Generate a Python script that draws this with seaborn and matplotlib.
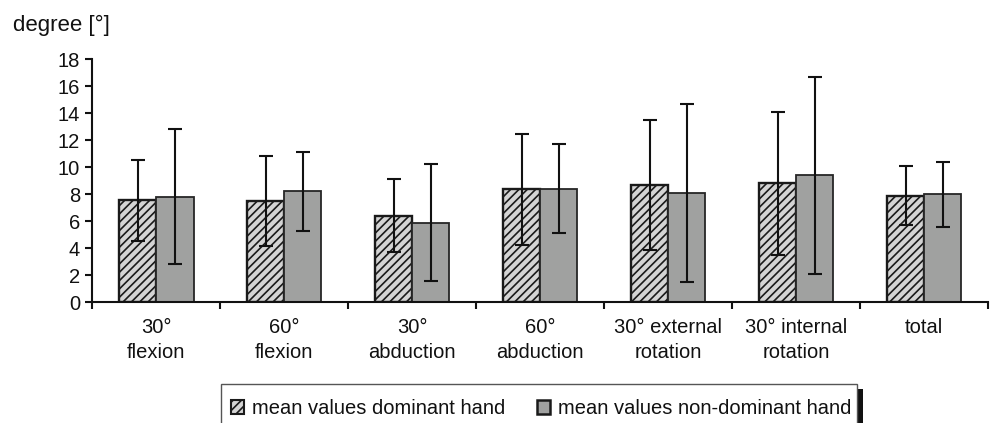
import matplotlib
matplotlib.use("Agg")
import matplotlib.pyplot as plt
import seaborn as sns
import pandas as pd
from matplotlib.patches import Patch, Rectangle

# ---- data ----
categories = ["30°\nflexion", "60°\nflexion", "30°\nabduction", "60°\nabduction",
              "30° external\nrotation", "30° internal\nrotation", "total"]
series = ["mean values dominant hand", "mean values non-dominant hand"]
dominant_mean = [7.55, 7.5, 6.4, 8.35, 8.7, 8.8, 7.9]
dominant_sd = [3.0, 3.3, 2.7, 4.1, 4.8, 5.3, 2.2]
nondominant_mean = [7.8, 8.2, 5.9, 8.4, 8.1, 9.4, 8.0]
nondominant_sd = [5.0, 2.9, 4.3, 3.3, 6.6, 7.3, 2.4]
y_ticks = [0, 2, 4, 6, 8, 10, 12, 14, 16, 18]
y_label = "degree [°]"

sns.set_style("ticks")
plt.rcParams["font.family"] = ["Liberation Sans", "DejaVu Sans"]
plt.rcParams["hatch.linewidth"] = 1.2

FS = 14.5
W, H = 991, 423

df = pd.DataFrame({
    "category": categories * 2,
    "hand": [series[0]] * len(categories) + [series[1]] * len(categories),
    "value": dominant_mean + nondominant_mean,
})

fig = plt.figure(figsize=(W / 100, H / 100), dpi=100)
ax = fig.add_axes([0.0933, 0.2853, 0.9037, 0.5752])

dom_face = "#d4d4d4"
non_face = "#a0a1a0"
sns.barplot(data=df, x="category", y="value", hue="hand", order=categories,
            hue_order=series, palette=[dom_face, non_face], width=0.58, gap=0,
            errorbar=None, legend=False, ax=ax, saturation=1,
            edgecolor="black", linewidth=1.7)

for p in ax.containers[0]:
    p.set_hatch("////")
    p.set_edgecolor("#1a1a1a")
for p in ax.containers[1]:
    p.set_edgecolor("#262626")
    p.set_linewidth(1.3)

for cont, means, sds in [(ax.containers[0], dominant_mean, dominant_sd),
                         (ax.containers[1], nondominant_mean, nondominant_sd)]:
    xs = [b.get_x() + b.get_width() / 2 for b in cont]
    ax.errorbar(xs, means, yerr=sds, fmt="none", ecolor="#111111",
                elinewidth=1.5, capsize=4.7, capthick=1.5, zorder=5)

ax.set_xlim(-0.5, len(categories) - 0.5)
ax.set_ylim(0, 18)
ax.set_yticks(y_ticks)
ax.set_xticks(range(len(categories)))
ax.set_xticklabels(categories, linespacing=1.4)
ax.set_xticks([i - 0.5 for i in range(len(categories) + 1)], minor=True)
ax.tick_params(axis="x", which="major", length=0, pad=11, labelsize=FS, colors="#111111")
ax.tick_params(axis="x", which="minor", length=5, width=1.5, direction="out", color="#111111")
ax.tick_params(axis="y", length=5, width=1.5, pad=4, labelsize=FS, colors="#111111")
ax.set_xlabel("")
ax.set_ylabel("")
for s in ["top", "right"]:
    ax.spines[s].set_visible(False)
for s in ["left", "bottom"]:
    ax.spines[s].set_linewidth(1.5)
    ax.spines[s].set_color("#111111")

fig.text(13 / W, 1 - 25 / H, y_label, fontsize=16, va="center", ha="left", color="#111111")

# legend frame (cut off at the bottom of the figure, with a dark shadow on the right)
fx0, fx1, fy_top = 221, 857, 384
fig.patches.append(Rectangle((fx0 / W + 6 / W, -0.2), (fx1 - fx0) / W, (1 - fy_top / H) + 0.2 - 5 / H,
                             transform=fig.transFigure, facecolor="#111111", edgecolor="none", zorder=1))
fig.patches.append(Rectangle((fx0 / W, -0.2), (fx1 - fx0) / W, (1 - fy_top / H) + 0.2,
                             transform=fig.transFigure, facecolor="white", edgecolor="#555555",
                             linewidth=1.0, zorder=2))

handles = [Patch(facecolor=dom_face, edgecolor="#1a1a1a", hatch="////", linewidth=1.5),
           Patch(facecolor=non_face, edgecolor="#1a1a1a", linewidth=1.8)]
leg = fig.legend(handles, series, ncol=2, loc="upper left",
                 bbox_to_anchor=(231 / W, 1 - 399 / H), borderaxespad=0,
                 fontsize=FS, frameon=False,
                 handlelength=0.65, handleheight=0.65, handletextpad=0.4,
                 columnspacing=1.55, borderpad=0)
leg.set_zorder(3)
for t in leg.get_texts():
    t.set_color("#111111")

fig.savefig("out.png", dpi=100)
